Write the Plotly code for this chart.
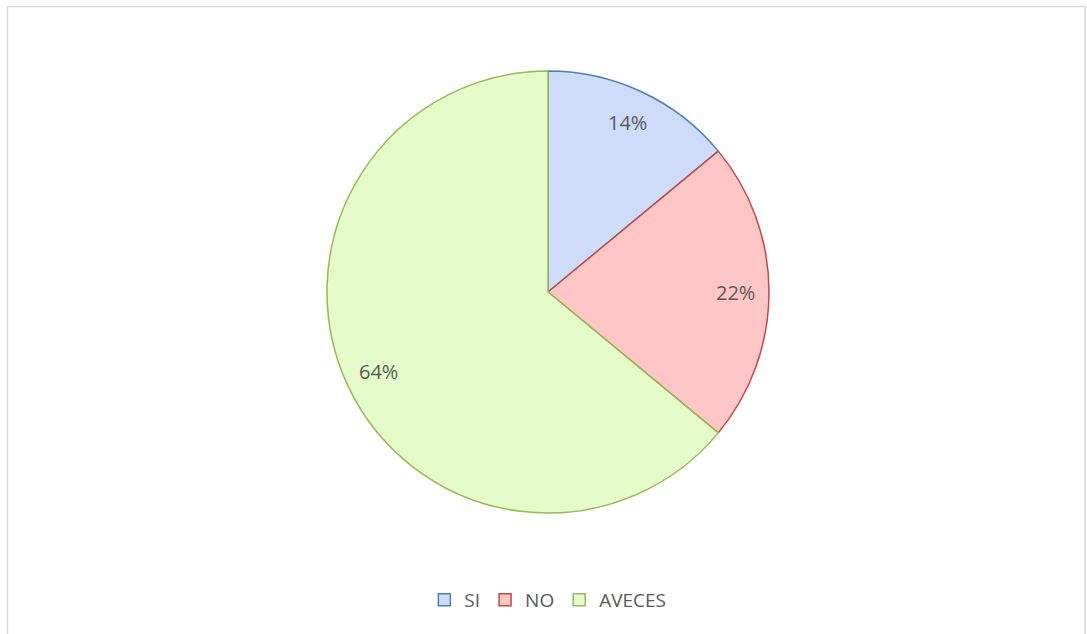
import math
import plotly.graph_objects as go

labels = ["SI", "NO", "AVECES"]
values = [14, 22, 64]
fill_colors = ["#cddcf9", "#ffc6c6", "#e5fbc9"]
line_colors = ["#4a7ebb", "#be4b48", "#98b954"]

W, H = 1087, 634
cx, cy, r = 548, 292, 221
label_frac = 0.85

fig = go.Figure(go.Pie(
    labels=labels,
    values=values,
    sort=False,
    direction="clockwise",
    rotation=0,
    marker=dict(colors=fill_colors, line=dict(color=line_colors, width=1.5)),
    textinfo="none",
    domain=dict(x=[(cx - r) / W, (cx + r) / W], y=[1 - (cy + r) / H, 1 - (cy - r) / H]),
    hoverinfo="label+percent",
))

# percentage labels placed near the outer part of each slice (derived from data)
total = sum(values)
annotations = []
cum = 0
for v in values:
    mid = (cum + v / 2) / total * 2 * math.pi
    cum += v
    px = cx + label_frac * r * math.sin(mid)
    py = cy - label_frac * r * math.cos(mid)
    annotations.append(dict(
        x=px / W, y=1 - py / H, xref="paper", yref="paper",
        xanchor="center", yanchor="middle",
        text=f"{round(v / total * 100)}%", showarrow=False,
        font=dict(family="Open Sans, Liberation Sans, sans-serif", size=20, color="#595959"),
    ))

fig.update_layout(
    width=W, height=H,
    margin=dict(l=0, r=0, t=0, b=0),
    paper_bgcolor="white",
    plot_bgcolor="white",
    showlegend=True,
    annotations=annotations,
    legend=dict(
        orientation="h",
        x=0.504, xanchor="center",
        y=1 - 600 / H, yanchor="middle",
        font=dict(family="Open Sans, Liberation Sans, sans-serif", size=19, color="#595959"),
        itemwidth=30,
        tracegroupgap=0,
    ),
    shapes=[dict(type="rect", xref="paper", yref="paper",
                 x0=7.5 / W, x1=1085 / W, y0=-0.05, y1=1 - 6.5 / H,
                 line=dict(color="#d9d9d9", width=1.5), fillcolor="rgba(0,0,0,0)")],
)

fig.write_html(
    "out.html",
    config={"displayModeBar": False},
    post_script="document.body.style.margin='0px';document.body.style.overflow='hidden';",
)
